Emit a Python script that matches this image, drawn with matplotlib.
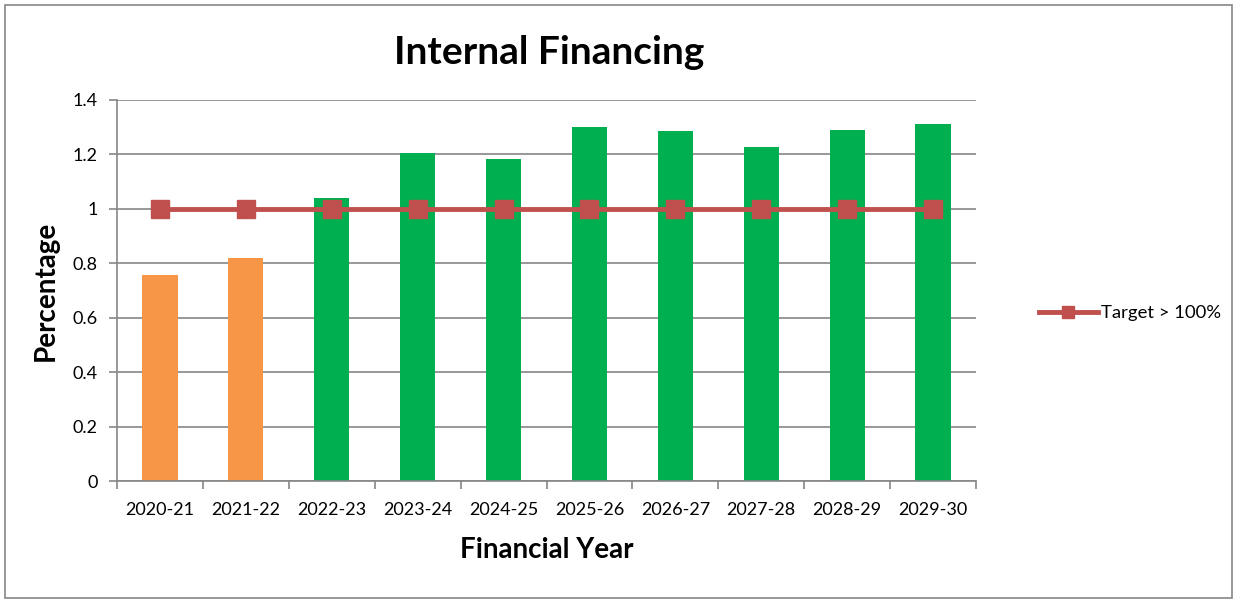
import numpy as np
import matplotlib.pyplot as plt
from matplotlib.patches import Rectangle

plt.rcParams['font.family'] = ['Lato', 'DejaVu Sans']

years = ['2020-21', '2021-22', '2022-23', '2023-24', '2024-25',
         '2025-26', '2026-27', '2027-28', '2028-29', '2029-30']
ratio = [0.757, 0.82, 1.039, 1.204, 1.185, 1.300, 1.286, 1.228, 1.288, 1.310]
target = [1, 1, 1, 1, 1, 1, 1, 1, 1, 1]

orange = '#F79646'
green = '#00B050'
red = '#C0504D'
grey = '#868686'

fig = plt.figure(figsize=(12.37, 6.03), dpi=100)
ax = fig.add_axes([117 / 1237, 1 - 481 / 603, 859 / 1237, 381 / 603])

# chart border
fig.patches.append(Rectangle((5 / 1237, 5 / 603), 1227 / 1237, 593 / 603,
                             transform=fig.transFigure, fill=False,
                             edgecolor=grey, linewidth=1.2))

x = np.arange(len(years))
colors = [orange if v < 1 else green for v in ratio]
ax.bar(x, ratio, width=0.41, color=colors, zorder=2)
ax.plot(x, target, color=red, linewidth=3.5, marker='s', markersize=13,
        markerfacecolor=red, markeredgecolor=red, zorder=3,
        label='Target > 100%')

ax.set_xlim(-0.5, len(years) - 0.5)
ax.set_ylim(0, 1.4)
ax.set_yticks(np.arange(0, 1.41, 0.2))
ax.set_yticklabels(['0', '0.2', '0.4', '0.6', '0.8', '1', '1.2', '1.4'])
ax.yaxis.grid(True, color=grey, linewidth=1.2, zorder=0)
ax.set_axisbelow(True)

ax.set_xticks(x)
ax.set_xticklabels(years)
ax.set_xticks(np.arange(-0.5, len(years), 1), minor=True)
ax.tick_params(axis='x', which='major', length=0, pad=15, labelsize=13)
ax.tick_params(axis='x', which='minor', length=6, color=grey, width=1.2)
ax.tick_params(axis='y', length=6, color=grey, width=1.2, pad=8, labelsize=13)

for s in ['top', 'right']:
    ax.spines[s].set_visible(False)
for s in ['left', 'bottom']:
    ax.spines[s].set_color(grey)
    ax.spines[s].set_linewidth(1.2)

ax.set_xlabel('Financial Year', fontsize=20, fontweight='bold', labelpad=14)
ax.set_ylabel('Percentage', fontsize=20, fontweight='bold', labelpad=10)
fig.text(549 / 1237, 1 - 52 / 603, 'Internal Financing', fontsize=28,
         fontweight='bold', ha='center', va='center')

fig.legend(loc='center left', bbox_to_anchor=(1022 / 1237, 1 - 313 / 603),
           frameon=False, fontsize=13.3, handlelength=3.2, handletextpad=0.2,
           markerscale=0.7)

fig.savefig('out.png', dpi=100)
